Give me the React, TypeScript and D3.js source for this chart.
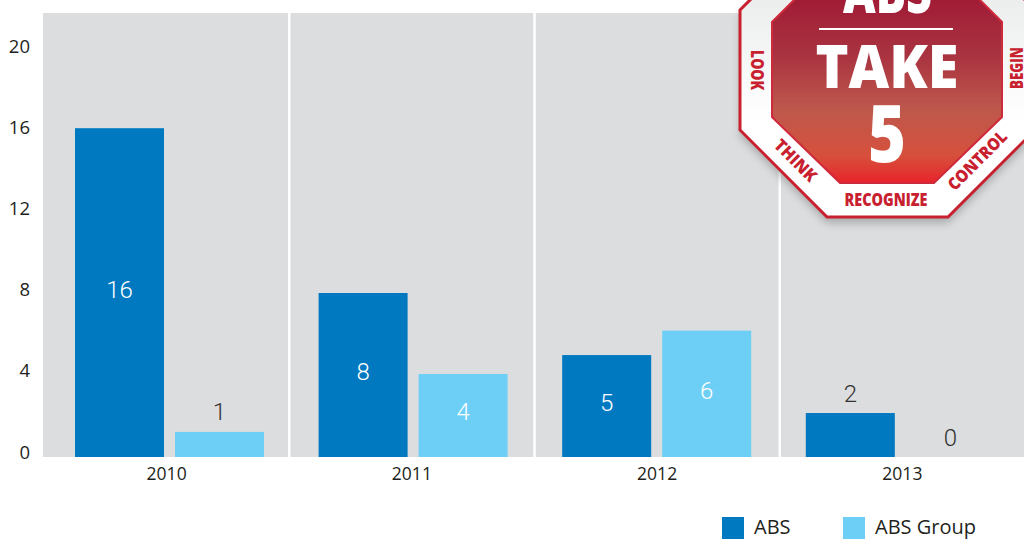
import React from "react";
import * as d3 from "d3";

const years = ["2010", "2011", "2012", "2013"];
const absLabels = [16, 8, 5, 2];
const groupLabels = [1, 4, 6, 0];
const absHeights = [16, 7.98, 4.96, 2.14];
const groupHeights = [1.22, 4.04, 6.15, 0];
const yTicks = [0, 4, 8, 12, 16, 20];
const seriesNames = ["ABS", "ABS Group"];
const seriesColors = ["#0079c1", "#6dcff6"];

const W = 1024, H = 539;
const BG = "#dcddde";
const RED = "#c8202f";
const SANS = "'Open Sans', sans-serif";

const y = d3.scaleLinear().domain([0, 20]).range([457, 46]);
const tickY = d3.scaleLinear().domain([0, 20]).range([451, 45]);
const panel = d3.scaleBand<string>().domain(years).range([44, 1025]);
const barGroup = d3.scaleBand<string>().domain(years).range([45, 1019.4]);
const inner = d3.scaleOrdinal<string, number>().domain(seriesNames).range([30, 130]);

const BAR_W = 89;

function BandLabel({ x, y: yy, w, size, rot = 0, children, fill = RED }: any) {
  return (
    <text transform={`translate(${x},${yy}) rotate(${rot})`} textAnchor="middle" dominantBaseline="central"
      fontFamily={SANS} fontWeight={800} fontSize={size} fill={fill} textLength={w} lengthAdjust="spacingAndGlyphs">
      {children}
    </text>
  );
}

function Sign() {
  const outer = "740,10 827,-77 948,-77 1035,10 1035,130 948,217 827,217 740,130";
  const core = "772,22 840,-46 934,-46 1002,22 1002,117 934,183 840,183 772,117";
  return (
    <g>
      <defs>
        <linearGradient id="face" x1="0" x2="0" y1="0" y2="183" gradientUnits="userSpaceOnUse">
          <stop offset="0" stopColor="#a11c36" />
          <stop offset="0.3" stopColor="#a93340" />
          <stop offset="0.6" stopColor="#be584c" />
          <stop offset="0.85" stopColor="#d6503c" />
          <stop offset="1" stopColor="#e8232a" />
        </linearGradient>
        <linearGradient id="rim" x1="0" x2="0" y1="0" y2="120" gradientUnits="userSpaceOnUse">
          <stop offset="0" stopColor="#eceded" />
          <stop offset="1" stopColor="#ffffff" />
        </linearGradient>
        <filter id="shadow" x="-20%" y="-20%" width="140%" height="140%">
          <feGaussianBlur stdDeviation="4" />
        </filter>
      </defs>
      <polygon points={outer} transform="translate(0,6)" fill="#7d7f82" opacity={0.55} filter="url(#shadow)" />
      <polygon points={outer} fill="url(#rim)" stroke={RED} strokeWidth={3} />
      <polygon points={core} fill="url(#face)" stroke="#cf2a3c" strokeWidth={2} />
      <BandLabel x={887.5} y={-10} w={89} size={60} fill="#fff">ABS</BandLabel>
      <line x1={819} x2={953} y1={29} y2={29} stroke="#fff" strokeWidth={2} />
      <BandLabel x={887} y={65} w={143} size={60} fill="#fff">TAKE</BandLabel>
      <BandLabel x={887} y={130} w={38} size={80} fill="#fff">5</BandLabel>
      <BandLabel x={757} y={70} w={40} size={17} rot={90}>LOOK</BandLabel>
      <BandLabel x={1016} y={68} w={42} size={17} rot={-90}>BEGIN</BandLabel>
      <BandLabel x={796} y={160} w={52} size={17} rot={45}>THINK</BandLabel>
      <BandLabel x={977} y={160} w={76} size={17} rot={-45}>CONTROL</BandLabel>
      <BandLabel x={886} y={199} w={83} size={17}>RECOGNIZE</BandLabel>
    </g>
  );
}

export default function App() {
  const heights = [absHeights, groupHeights];
  const labels = [absLabels, groupLabels];
  return (
    <svg width={W} height={H} viewBox={`0 0 ${W} ${H}`}
      style={{ position: "absolute", left: 0, top: 0, display: "block", background: "#fff" }}>
      <rect x={43} y={13} width={W - 43} height={444} fill={BG} />
      {years.slice(1).map((yr) => (
        <line key={yr} x1={panel(yr)!} x2={panel(yr)!} y1={13} y2={457} stroke="#fff" strokeWidth={2.5} />
      ))}

      {yTicks.map((t) => (
        <text key={t} x={30} y={tickY(t)} textAnchor="end" dominantBaseline="central"
          fontFamily={SANS} fontSize={18.5} fill="#231f20">{t}</text>
      ))}

      {years.map((yr) => (
        <text key={yr} x={panel(yr)! + panel.bandwidth() / 2} y={472.5} textAnchor="middle" dominantBaseline="central"
          fontFamily={SANS} fontSize={17.5} fill="#231f20">{yr}</text>
      ))}

      {years.map((yr, i) =>
        seriesNames.map((name, s) => {
          const h = heights[s][i];
          const v = labels[s][i];
          const x = barGroup(yr)! + inner(name);
          const top = y(h);
          const inside = v >= 4;
          return (
            <g key={name}>
              {h > 0 && <rect x={x} y={top} width={BAR_W} height={y(0) - top} fill={seriesColors[s]} />}
              <text x={x + BAR_W / 2} y={inside ? (top + y(0)) / 2 - 3 : top - 19.5}
                textAnchor="middle" dominantBaseline="central"
                fontFamily="Roboto, sans-serif" fontWeight={300} fontSize={24}
                fill={inside ? "#fff" : "#333"}>{v}</text>
            </g>
          );
        })
      )}

      <Sign />

      {seriesNames.map((name, s) => {
        const lx = d3.scaleOrdinal<string, number>().domain(seriesNames).range([722, 843])(name);
        return (
          <g key={name}>
            <rect x={lx} y={517} width={22} height={22} fill={seriesColors[s]} />
            <text x={lx + 32} y={526.5} dominantBaseline="central" fontFamily={SANS} fontSize={20} fill="#231f20">{name}</text>
          </g>
        );
      })}
    </svg>
  );
}
